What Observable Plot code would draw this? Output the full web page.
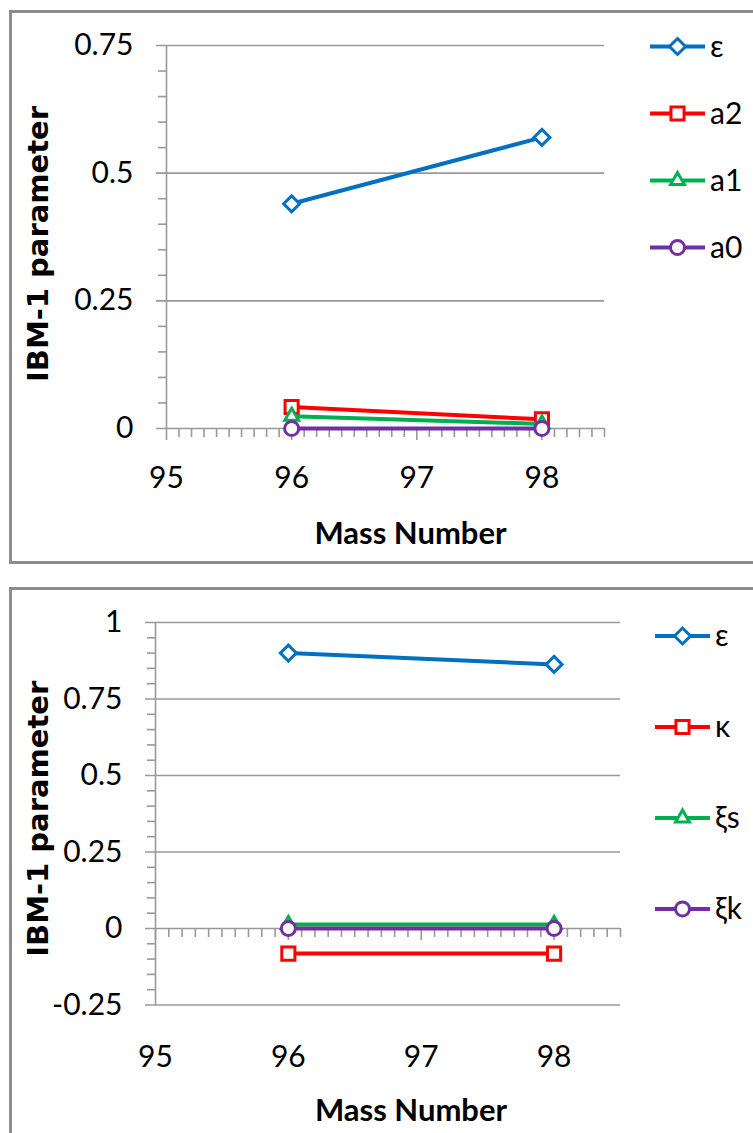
<!DOCTYPE html>
<html><head><meta charset="utf-8">
<script src="https://cdn.jsdelivr.net/npm/d3@7"></script>
<script src="https://cdn.jsdelivr.net/npm/@observablehq/plot@0.6"></script>
<style>
html,body{margin:0;padding:0;background:#fff;width:753px;height:1133px;overflow:hidden;}
#root{position:relative;width:753px;height:1133px;overflow:hidden;}
.chart{position:absolute;left:0;}
.chart svg{display:block;}
.overlay{position:absolute;left:0;pointer-events:none;}
.panel{position:absolute;border:3px solid #8c8c8c;box-sizing:border-box;pointer-events:none;}
</style></head><body><div id="root"></div>
<script>
// ---- data ----
const massNumbers = [96, 98];
const topSeries = ["ε", "a2", "a1", "a0"];
const topEpsilon = [0.44, 0.57];
const topA2 = [0.042, 0.018];
const topA1 = [0.024, 0.009];
const topA0 = [0, 0];
const bottomSeries = ["ε", "κ", "ξs", "ξk"];
const bottomEpsilon = [0.9, 0.863];
const bottomKappa = [-0.082, -0.082];
const bottomXiS = [0.013, 0.013];
const bottomXiK = [0, 0];
const xTicks = [95, 96, 97, 98];
const topYTicks = [0, 0.25, 0.5, 0.75];
const bottomYTicks = [-0.25, 0, 0.25, 0.5, 0.75, 1];
const xLabel = "Mass Number";
const yLabel = "IBM-1 parameter";
const seriesColors = ["#0070C0", "#FF0000", "#00B050", "#7030A0"];
const seriesSymbols = ["diamond2", "square", "triangle2", "circle"];

const GRID = "#999999";
const TICK_FONT = "Lato, 'Open Sans', sans-serif";
const d3Symbols = {diamond2: d3.symbolDiamond2, square: d3.symbolSquare, triangle2: d3.symbolTriangle2, circle: d3.symbolCircle};
const symbolR = {diamond2: 7.2, square: 7.4, triangle2: 6.6, circle: 7};
const LINE_W = 4;
const MARK_W = 3;

const root = document.getElementById("root");

function makePanel(cfg) {
  const rows = [];
  cfg.names.forEach((name, s) => massNumbers.forEach((m, i) =>
    rows.push({series: name, s, mass: m, value: cfg.values[s][i]})));
  const yMinor = d3.range(Math.round(cfg.yDomain[0] * 20), Math.round(cfg.yDomain[1] * 20) + 1)
    .map(k => k / 20).filter(v => !cfg.yTicks.some(t => Math.abs(t - v) < 1e-9));
  const xMinor = d3.range(951, 986).map(k => k / 10).filter(v => Math.abs(v - Math.round(v)) > 1e-9);

  const marks = [
    Plot.ruleY(cfg.yTicks, {stroke: GRID, strokeWidth: 1.6, insetLeft: -10}),
    Plot.axisY(yMinor, {tickSize: 8, tickFormat: () => "", stroke: GRID, strokeWidth: 1.6, label: null}),
    Plot.axisY(cfg.yTicks, {tickSize: 0, tickPadding: cfg.yPad, tickFormat: d => String(d), fill: "#000",
      fontSize: 30, fontFamily: TICK_FONT, label: null}),
    Plot.ruleX([cfg.xDomain[0]], {stroke: GRID, strokeWidth: 1.6}),
    Plot.ruleX(xMinor, {y1: 0, y2: 0, insetBottom: -9, stroke: GRID, strokeWidth: 1.6}),
    Plot.ruleX(xTicks, {y1: 0, y2: 0, insetBottom: -12, stroke: GRID, strokeWidth: 1.6}),
    Plot.axisX(xTicks, {tickSize: 0, tickPadding: cfg.xPad, fill: "#000", fontSize: 30,
      fontFamily: TICK_FONT, label: null, tickFormat: d => String(d)}),
  ];
  cfg.names.forEach((name, s) => {
    const d = rows.filter(r => r.s === s);
    marks.push(Plot.line(d, {x: "mass", y: "value", stroke: seriesColors[s], strokeWidth: LINE_W}));
    marks.push(Plot.dot(d, {x: "mass", y: "value", symbol: seriesSymbols[s], r: symbolR[seriesSymbols[s]],
      stroke: seriesColors[s], fill: "white", strokeWidth: MARK_W}));
  });
  marks.push(Plot.text([xLabel], {frameAnchor: "bottom", text: d => d, dx: cfg.xLabelDx, dy: 106,
    lineAnchor: "middle", fontSize: 31, fontWeight: "bold", fontFamily: TICK_FONT, fill: "#000"}));
  marks.push(Plot.text([yLabel], {frameAnchor: "left", text: d => d, rotate: -90, dx: cfg.yLabelDx, dy: cfg.yLabelDy,
    textAnchor: "middle", lineAnchor: "middle", fontSize: 29, fontWeight: "bold",
    fontFamily: "'DejaVu Sans', sans-serif", fill: "#000"}));

  const chart = Plot.plot({
    width: 753, height: cfg.height,
    marginLeft: cfg.marginLeft, marginRight: 753 - cfg.plotRight,
    marginTop: cfg.marginTop, marginBottom: cfg.marginBottom,
    x: {domain: cfg.xDomain},
    y: {domain: cfg.yDomain},
    style: {background: "transparent", overflow: "visible"},
    marks
  });
  const wrap = document.createElement("div");
  wrap.className = "chart";
  wrap.style.top = cfg.top + "px";
  wrap.appendChild(chart);
  root.appendChild(wrap);

  // legend (positions relative to the panel's own top)
  const ov = document.createElement("div");
  ov.className = "overlay";
  ov.style.top = cfg.top + "px";
  root.appendChild(ov);
  const svg = d3.select(ov).append("svg").attr("width", 753).attr("height", cfg.height);
  cfg.names.forEach((name, s) => {
    const y = cfg.legendY0 + s * cfg.legendStep;
    const g = svg.append("g");
    g.append("line").attr("x1", cfg.legendX).attr("x2", cfg.legendX + 55).attr("y1", y).attr("y2", y)
      .attr("stroke", seriesColors[s]).attr("stroke-width", LINE_W);
    const sym = seriesSymbols[s];
    const r = symbolR[sym];
    g.append("path").attr("d", d3.symbol(d3Symbols[sym], r * r * Math.PI)())
      .attr("transform", `translate(${cfg.legendX + 27.5},${y})`)
      .attr("fill", "white").attr("stroke", seriesColors[s]).attr("stroke-width", MARK_W);
    g.append("text").attr("x", cfg.legendX + 60).attr("y", y).attr("dy", "0.34em")
      .attr("font-family", TICK_FONT).attr("font-size", 30).attr("fill", "#000").text(name);
  });

  const border = document.createElement("div");
  border.className = "panel";
  Object.assign(border.style, cfg.border);
  root.appendChild(border);
}

makePanel({
  names: topSeries, values: [topEpsilon, topA2, topA1, topA0],
  xDomain: [95, 98.5], yDomain: [0, 0.75], yTicks: topYTicks,
  top: 0, height: 570, marginLeft: 166, plotRight: 604, marginTop: 45, marginBottom: 142,
  yPad: 33, xPad: 38, xLabelDx: 25, yLabelDx: -128, yLabelDy: 7,
  legendX: 650, legendY0: 46.5, legendStep: 67,
  border: {left: "8.5px", top: "10px", width: "760px", height: "554px"}
});

makePanel({
  names: bottomSeries, values: [bottomEpsilon, bottomKappa, bottomXiS, bottomXiK],
  xDomain: [95, 98.5], yDomain: [-0.25, 1], yTicks: bottomYTicks,
  top: 570, height: 563, marginLeft: 155, plotRight: 620, marginTop: 52, marginBottom: 128.5,
  yPad: 33, xPad: 41, xLabelDx: 23, yLabelDx: -117, yLabelDy: 5,
  legendX: 655, legendY0: 66, legendStep: 91,
  border: {left: "8.5px", top: "586.5px", width: "760px", height: "600px"}
});
</script>
</body></html>
